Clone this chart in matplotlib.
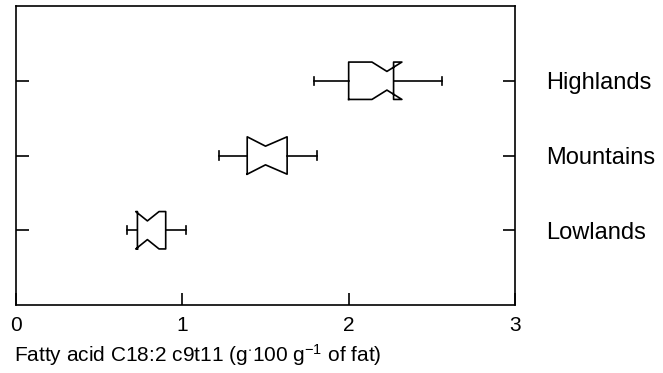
import numpy as np
import matplotlib.pyplot as plt

plt.rcParams['font.family'] = ['Liberation Sans', 'DejaVu Sans']
plt.rcParams['mathtext.fontset'] = 'custom'
plt.rcParams['mathtext.rm'] = 'Liberation Sans'
plt.rcParams['mathtext.it'] = 'Liberation Sans'

# data (g/100 g fat)
groups = ['Lowlands', 'Mountains', 'Highlands']
whis_lo = [0.67, 1.22, 1.79]
q1 = [0.73, 1.39, 2.00]
med = [0.79, 1.50, 2.23]
q3 = [0.90, 1.63, 2.27]
ci_lo = [0.72, 1.39, 2.14]
ci_hi = [0.86, 1.63, 2.32]
whis_hi = [1.02, 1.81, 2.56]

stats = []
for i in range(len(groups)):
    stats.append(dict(label=groups[i], whislo=whis_lo[i], q1=q1[i], med=med[i],
                      q3=q3[i], cilo=ci_lo[i], cihi=ci_hi[i], whishi=whis_hi[i],
                      fliers=[]))

fig = plt.figure(figsize=(6.63, 3.73), dpi=100)
ax = fig.add_axes([16/663, 1-305/373, 499/663, 299/373])

ax.bxp(stats, positions=[1, 2, 3], vert=False, widths=0.5, shownotches=True,
       capwidths=0.11, showfliers=False,
       boxprops=dict(color='black', linewidth=1.2),
       whiskerprops=dict(color='black', linewidth=1.2),
       capprops=dict(color='black', linewidth=1.2),
       medianprops=dict(linewidth=0))

ax.set_xlim(0, 3)
ax.set_ylim(0, 4)
ax.set_xticks([0, 1, 2, 3])
ax.set_yticks([1, 2, 3])
ax.set_yticklabels(groups)
ax.tick_params(axis='x', direction='in', length=9, width=1.2, labelsize=15, pad=8)
ax.tick_params(axis='y', direction='in', length=9, width=1.2, labelsize=17,
               left=True, right=True, labelleft=False, labelright=True, pad=22.5)
for s in ax.spines.values():
    s.set_linewidth(1.2)

ax.set_xlabel(r'Fatty acid C18:2 c9t11 (g$^{\cdot}$100 g$^{-1}$ of fat)', fontsize=15)
ax.xaxis.set_label_coords(-0.005, -0.125)
ax.xaxis.label.set_horizontalalignment('left')

fig.savefig('out.png', dpi=100)
